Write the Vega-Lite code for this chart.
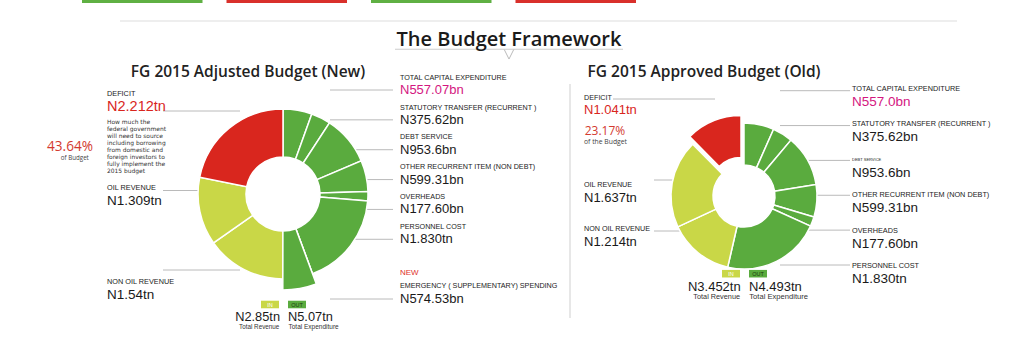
{
"$schema":"https://vega.github.io/schema/vega-lite/v6.json",
"width":1024,"height":342,
"autosize":{"type":"fit","contains":"padding"},
"padding":0,
"background":"#ffffff",
"config":{"view":{"stroke":null},"axis":{"disable":true},"legend":{"disable":true},"text":{"font":"Liberation Sans"}},
"resolve":{"scale":{"x":"independent","y":"independent","theta":"independent","color":"independent","opacity":"independent","size":"independent"}},
"datasets":{
"tabs":[{"tab":1,"tone":"green"},{"tab":2,"tone":"red"},{"tab":3,"tone":"green"},{"tab":4,"tone":"red"}],
"budgets":[
{"budget":"New","title":"FG 2015 Adjusted Budget (New)","share":"43.64%","shareCaption":"of Budget","revenue":"N2.85tn","expenditure":"N5.07tn"},
{"budget":"Old","title":"FG 2015 Approved Budget (Old)","share":"23.17%","shareCaption":"of the Budget","revenue":"N3.452tn","expenditure":"N4.493tn"}],
"items":[
{"budget":"New","seq":1,"group":"Expenditure","item":"Capital expenditure","name":"TOTAL CAPITAL EXPENDITURE","value":557.07,"label":"N557.07bn"},
{"budget":"New","seq":2,"group":"Expenditure","item":"Statutory transfer","name":"STATUTORY TRANSFER (RECURRENT )","value":375.62,"label":"N375.62bn"},
{"budget":"New","seq":3,"group":"Expenditure","item":"Debt service","name":"DEBT SERVICE","value":953.6,"label":"N953.6bn"},
{"budget":"New","seq":4,"group":"Expenditure","item":"Other recurrent","name":"OTHER RECURRENT ITEM (NON DEBT)","value":599.31,"label":"N599.31bn"},
{"budget":"New","seq":5,"group":"Expenditure","item":"Overheads","name":"OVERHEADS","value":177.6,"label":"N177.60bn"},
{"budget":"New","seq":6,"group":"Expenditure","item":"Personnel cost","name":"PERSONNEL COST","value":1830,"label":"N1.830tn"},
{"budget":"New","seq":7,"group":"Supplementary","item":"Emergency spending","name":"EMERGENCY ( SUPPLEMENTARY) SPENDING","value":574.53,"label":"N574.53bn","tag":"NEW"},
{"budget":"New","seq":8,"group":"Revenue","item":"Non oil revenue","name":"NON OIL REVENUE","value":1540,"label":"N1.54tn"},
{"budget":"New","seq":9,"group":"Revenue","item":"Oil revenue","name":"OIL REVENUE","value":1309,"label":"N1.309tn"},
{"budget":"New","seq":10,"group":"Deficit","item":"Deficit","name":"DEFICIT","value":2212,"label":"N2.212tn","note":"How much the\nfederal government\nwill need to source\nincluding borrowing\nfrom domestic and\nforeign investors to\nfully implement the\n2015 budget"},
{"budget":"Old","seq":1,"group":"Expenditure","item":"Capital expenditure","name":"TOTAL CAPITAL EXPENDITURE","value":557.0,"label":"N557.0bn"},
{"budget":"Old","seq":2,"group":"Expenditure","item":"Statutory transfer","name":"STATUTORY TRANSFER (RECURRENT )","value":375.62,"label":"N375.62bn"},
{"budget":"Old","seq":3,"group":"Expenditure","item":"Debt service","name":"DEBT SERVICE","value":953.6,"label":"N953.6bn"},
{"budget":"Old","seq":4,"group":"Expenditure","item":"Other recurrent","name":"OTHER RECURRENT ITEM (NON DEBT)","value":599.31,"label":"N599.31bn"},
{"budget":"Old","seq":5,"group":"Expenditure","item":"Overheads","name":"OVERHEADS","value":177.6,"label":"N177.60bn"},
{"budget":"Old","seq":6,"group":"Expenditure","item":"Personnel cost","name":"PERSONNEL COST","value":1830,"label":"N1.830tn"},
{"budget":"Old","seq":7,"group":"Revenue","item":"Non oil revenue","name":"NON OIL REVENUE","value":1214,"label":"N1.214tn"},
{"budget":"Old","seq":8,"group":"Revenue","item":"Oil revenue","name":"OIL REVENUE","value":1637,"label":"N1.637tn"},
{"budget":"Old","seq":9,"group":"Deficit","item":"Deficit","name":"DEFICIT","value":1041,"label":"N1.041tn"}]
},
"layer":[
{"data":{"name":"tabs"},"mark":{"type":"rect"},"encoding":{
 "x":{"field":"tab","type":"ordinal","scale":{"type":"band","domain":[1,2,3,4],"range":[82,636],"paddingInner":0.166,"paddingOuter":0}},
 "y":{"datum":"tabs","type":"nominal","scale":{"type":"band","domain":["tabs"],"range":[0,3],"padding":0}},
 "color":{"field":"tone","type":"nominal","scale":{"domain":["green","red"],"range":["#5fb043","#d9302b"]}}}},
{"data":{"values":[{}]},"mark":{"type":"rect","color":"#dedede"},"encoding":{
 "x":{"datum":"separator","type":"nominal","scale":{"type":"band","domain":["separator"],"range":[120,957],"padding":0}},
 "y":{"datum":"separator","type":"nominal","scale":{"type":"band","domain":["separator"],"range":[20.5,21.5],"padding":0}}}},
{"data":{"values":[{}]},"mark":{"type":"rect","color":"#cccccc"},"encoding":{
 "x":{"datum":"underline","type":"nominal","scale":{"type":"band","domain":["underline"],"range":[395,623],"padding":0}},
 "y":{"datum":"underline","type":"nominal","scale":{"type":"band","domain":["underline"],"range":[48.8,49.8],"padding":0}}}},
{"data":{"values":[{}]},"mark":{"type":"point","shape":"M-1,-1L0,1L1,-1","filled":false,"stroke":"#bbbbbb","strokeWidth":1,"size":90,"opacity":1},"encoding":{
 "x":{"datum":"notch","type":"nominal","scale":{"type":"point","domain":["notch"],"range":[509,509],"padding":0}},
 "y":{"datum":"notch","type":"nominal","scale":{"type":"point","domain":["notch"],"range":[54.3,54.3],"padding":0}}}},
{"data":{"values":[{}]},"mark":{"type":"rect","color":"#d0d0d0"},"encoding":{
 "x":{"datum":"divider","type":"nominal","scale":{"type":"band","domain":["divider"],"range":[569.5,570.5],"padding":0}},
 "y":{"datum":"divider","type":"nominal","scale":{"type":"band","domain":["divider"],"range":[84,318],"padding":0}}}},

{"data":{"name":"items"},"transform":[{"filter":"datum.budget === 'New' && (datum.group === 'Expenditure' || datum.group === 'Supplementary')"}],
 "mark":{"type":"rule","color":"#a8a8a8","strokeWidth":0.8,"x2Offset":-63},
 "encoding":{"x":{"field":"budget","type":"nominal","scale":{"type":"point","domain":["New","Old"],"range":[393,850],"padding":0}},"x2":{"field":"budget"},
 "y":{"field":"item","type":"nominal","scale":{"type":"point","domain":["Capital expenditure","Statutory transfer","Debt service","Other recurrent","Overheads","Personnel cost","(new)","Emergency spending"],"range":[90,299],"padding":0}}}},
{"data":{"name":"items"},"transform":[{"filter":"datum.budget === 'Old' && datum.group === 'Expenditure'"}],
 "mark":{"type":"rule","color":"#a8a8a8","strokeWidth":0.8,"x2Offset":-70},
 "encoding":{"x":{"field":"budget","type":"nominal","scale":{"type":"point","domain":["New","Old"],"range":[393,850],"padding":0}},"x2":{"field":"budget"},
 "y":{"field":"item","type":"nominal","scale":{"type":"point","domain":["Capital expenditure","Statutory transfer","Debt service","Other recurrent","Overheads","Personnel cost"],"range":[90.7,265],"padding":0}}}},
{"data":{"name":"items"},"transform":[{"filter":"datum.budget === 'New' && (datum.group === 'Revenue' || datum.group === 'Deficit')"}],
 "mark":{"type":"rule","color":"#a8a8a8","strokeWidth":0.8,"x2Offset":77},
 "encoding":{"x":{"field":"budget","type":"nominal","scale":{"type":"point","domain":["New","Old"],"range":[163,613],"padding":0}},"x2":{"field":"budget"},
 "y":{"field":"item","type":"nominal","scale":{"type":"point","domain":["Deficit","Oil revenue","Non oil revenue"],"range":[111,270],"padding":0}}}},
{"data":{"name":"items"},"transform":[{"filter":"datum.budget === 'Old' && datum.group === 'Deficit'"}],
 "mark":{"type":"rule","color":"#a8a8a8","strokeWidth":0.8,"x2Offset":102},
 "encoding":{"x":{"field":"budget","type":"nominal","scale":{"type":"point","domain":["New","Old"],"range":[163,613],"padding":0}},"x2":{"field":"budget"},
 "y":{"field":"item","type":"nominal","scale":{"type":"point","domain":["Deficit"],"range":[99,99],"padding":0}}}},
{"data":{"name":"items"},"transform":[{"filter":"datum.budget === 'Old' && datum.group === 'Revenue'"}],
 "mark":{"type":"rule","color":"#a8a8a8","strokeWidth":0.8,"x2Offset":46},
 "encoding":{"x":{"field":"budget","type":"nominal","scale":{"type":"point","domain":["New","Old"],"range":[163,654],"padding":0}},"x2":{"field":"budget"},
 "y":{"field":"item","type":"nominal","scale":{"type":"point","domain":["Oil revenue","Non oil revenue"],"range":[180,231],"padding":0}}}},

{"data":{"name":"items"},"transform":[{"filter":"datum.budget === 'New'"}],
 "mark":{"type":"arc","innerRadius":37,"outerRadius":85,"stroke":"#ffffff","strokeWidth":1.5},
 "encoding":{
 "x":{"field":"budget","type":"nominal","scale":{"type":"point","domain":["New","Old"],"range":[283,744],"padding":0}},
 "y":{"field":"budget","type":"nominal","scale":{"type":"point","domain":["New","Old"],"range":[194,196],"padding":0}},
 "theta":{"field":"value","type":"quantitative","stack":true},
 "order":{"field":"seq","type":"quantitative"},
 "color":{"field":"group","type":"nominal","scale":{"domain":["Expenditure","Supplementary","Revenue","Deficit"],"range":["#5aab3e","#5aab3e","#c9d747","#d9261e"]}}}},
{"data":{"name":"items"},"transform":[{"filter":"datum.budget === 'New'"}],
 "mark":{"type":"arc","innerRadius":37,"outerRadius":96,"stroke":"#ffffff","strokeWidth":1.5},
 "encoding":{
 "x":{"field":"budget","type":"nominal","scale":{"type":"point","domain":["New","Old"],"range":[283,744],"padding":0}},
 "y":{"field":"budget","type":"nominal","scale":{"type":"point","domain":["New","Old"],"range":[194,196],"padding":0}},
 "theta":{"field":"value","type":"quantitative","stack":true},
 "order":{"field":"seq","type":"quantitative"},
 "color":{"field":"group","type":"nominal","scale":{"domain":["Expenditure","Supplementary","Revenue","Deficit"],"range":["#5aab3e","#5aab3e","#c9d747","#d9261e"]}},
 "opacity":{"condition":{"test":"datum.group === 'Supplementary'","value":1},"value":0}}},
{"data":{"name":"items"},"transform":[{"filter":"datum.budget === 'Old'"}],
 "mark":{"type":"arc","innerRadius":31,"outerRadius":73,"stroke":"#ffffff","strokeWidth":1.5},
 "encoding":{
 "x":{"field":"budget","type":"nominal","scale":{"type":"point","domain":["New","Old"],"range":[283,744],"padding":0}},
 "y":{"field":"budget","type":"nominal","scale":{"type":"point","domain":["New","Old"],"range":[194,196],"padding":0}},
 "theta":{"field":"value","type":"quantitative","stack":true},
 "order":{"field":"seq","type":"quantitative"},
 "color":{"field":"group","type":"nominal","scale":{"domain":["Expenditure","Supplementary","Revenue","Deficit"],"range":["#5aab3e","#5aab3e","#c9d747","#d9261e"]}},
 "opacity":{"condition":{"test":"datum.group === 'Deficit'","value":0},"value":1}}},
{"data":{"name":"items"},"transform":[{"filter":"datum.budget === 'Old'"}],
 "mark":{"type":"arc","innerRadius":31,"outerRadius":73,"stroke":"#ffffff","strokeWidth":1.5,"xOffset":-3,"yOffset":-7.5},
 "encoding":{
 "x":{"field":"budget","type":"nominal","scale":{"type":"point","domain":["New","Old"],"range":[283,744],"padding":0}},
 "y":{"field":"budget","type":"nominal","scale":{"type":"point","domain":["New","Old"],"range":[194,196],"padding":0}},
 "theta":{"field":"value","type":"quantitative","stack":true},
 "order":{"field":"seq","type":"quantitative"},
 "color":{"field":"group","type":"nominal","scale":{"domain":["Expenditure","Supplementary","Revenue","Deficit"],"range":["#5aab3e","#5aab3e","#c9d747","#d9261e"]}},
 "opacity":{"condition":{"test":"datum.group === 'Deficit'","value":1},"value":0}}},

{"data":{"name":"items"},"transform":[{"filter":"datum.budget === 'New' && (datum.group === 'Expenditure' || datum.group === 'Supplementary')"}],
 "mark":{"type":"text","align":"left","baseline":"middle","fontSize":7.2,"color":"#222222"},
 "encoding":{"text":{"field":"name"},
 "x":{"field":"budget","type":"nominal","scale":{"type":"point","domain":["New","Old"],"range":[400,852],"padding":0}},
 "y":{"field":"item","type":"nominal","scale":{"type":"point","domain":["Capital expenditure","Statutory transfer","Debt service","Other recurrent","Overheads","Personnel cost","(new)","Emergency spending"],"range":[78,286],"padding":0}}}},
{"data":{"name":"items"},"transform":[{"filter":"datum.budget === 'New' && (datum.group === 'Expenditure' || datum.group === 'Supplementary')"}],
 "mark":{"type":"text","align":"left","baseline":"middle","fontSize":13},
 "encoding":{"text":{"field":"label"},
 "x":{"field":"budget","type":"nominal","scale":{"type":"point","domain":["New","Old"],"range":[400,852],"padding":0}},
 "y":{"field":"item","type":"nominal","scale":{"type":"point","domain":["Capital expenditure","Statutory transfer","Debt service","Other recurrent","Overheads","Personnel cost","(new)","Emergency spending"],"range":[90,299],"padding":0}},
 "color":{"condition":{"test":"datum.item === 'Capital expenditure'","value":"#d4177f"},"value":"#1a1a1a"}}},
{"data":{"name":"items"},"transform":[{"filter":"isValid(datum.tag)"}],
 "mark":{"type":"text","align":"left","baseline":"middle","fontSize":8,"color":"#e0312a"},
 "encoding":{"text":{"field":"tag"},
 "x":{"field":"budget","type":"nominal","scale":{"type":"point","domain":["New","Old"],"range":[400,852],"padding":0}},
 "y":{"field":"item","type":"nominal","scale":{"type":"point","domain":["Capital expenditure","Statutory transfer","Debt service","Other recurrent","Overheads","Personnel cost","(new)","Emergency spending"],"range":[65,273],"padding":0}}}},
{"data":{"name":"items"},"transform":[{"filter":"datum.budget === 'Old' && datum.group === 'Expenditure'"}],
 "mark":{"type":"text","align":"left","baseline":"middle","color":"#222222"},
 "encoding":{"text":{"field":"name"},
 "x":{"field":"budget","type":"nominal","scale":{"type":"point","domain":["New","Old"],"range":[400,852],"padding":0}},
 "y":{"field":"item","type":"nominal","scale":{"type":"point","domain":["Capital expenditure","Statutory transfer","Debt service","Other recurrent","Overheads","Personnel cost"],"range":[88.7,266],"padding":0}},
 "size":{"condition":{"test":"datum.item === 'Debt service'","value":4},"value":7.3}}},
{"data":{"name":"items"},"transform":[{"filter":"datum.budget === 'Old' && datum.group === 'Expenditure'"}],
 "mark":{"type":"text","align":"left","baseline":"middle","fontSize":13.5},
 "encoding":{"text":{"field":"label"},
 "x":{"field":"budget","type":"nominal","scale":{"type":"point","domain":["New","Old"],"range":[400,852],"padding":0}},
 "y":{"field":"item","type":"nominal","scale":{"type":"point","domain":["Capital expenditure","Statutory transfer","Debt service","Other recurrent","Overheads","Personnel cost"],"range":[102,279.3],"padding":0}},
 "color":{"condition":{"test":"datum.item === 'Capital expenditure'","value":"#d4177f"},"value":"#1a1a1a"}}},

{"data":{"name":"items"},"transform":[{"filter":"datum.budget === 'New' && (datum.group === 'Revenue' || datum.group === 'Deficit')"}],
 "mark":{"type":"text","align":"left","baseline":"middle","fontSize":7.3,"color":"#222222"},
 "encoding":{"text":{"field":"name"},
 "x":{"field":"budget","type":"nominal","scale":{"type":"point","domain":["New","Old"],"range":[107,584],"padding":0}},
 "y":{"field":"item","type":"nominal","scale":{"type":"point","domain":["Deficit","Oil revenue","Non oil revenue"],"range":[94,282],"padding":0}}}},
{"data":{"name":"items"},"transform":[{"filter":"datum.budget === 'New' && (datum.group === 'Revenue' || datum.group === 'Deficit')"}],
 "mark":{"type":"text","align":"left","baseline":"middle"},
 "encoding":{"text":{"field":"label"},
 "x":{"field":"budget","type":"nominal","scale":{"type":"point","domain":["New","Old"],"range":[107,584],"padding":0}},
 "y":{"field":"item","type":"nominal","scale":{"type":"point","domain":["Deficit","Oil revenue","Non oil revenue"],"range":[107,295],"padding":0}},
 "size":{"condition":{"test":"datum.group === 'Deficit'","value":14.5},"value":13.5},
 "color":{"condition":{"test":"datum.group === 'Deficit'","value":"#d9261e"},"value":"#1a1a1a"}}},
{"data":{"name":"items"},"transform":[{"filter":"datum.budget === 'Old' && (datum.group === 'Revenue' || datum.group === 'Deficit')"}],
 "mark":{"type":"text","align":"left","baseline":"middle","fontSize":7.2,"color":"#222222"},
 "encoding":{"text":{"field":"name"},
 "x":{"field":"budget","type":"nominal","scale":{"type":"point","domain":["New","Old"],"range":[107,584],"padding":0}},
 "y":{"field":"item","type":"nominal","scale":{"type":"point","domain":["Deficit","(share)","Oil revenue","Non oil revenue"],"range":[97.7,229.3],"padding":0}}}},
{"data":{"name":"items"},"transform":[{"filter":"datum.budget === 'Old' && (datum.group === 'Revenue' || datum.group === 'Deficit')"}],
 "mark":{"type":"text","align":"left","baseline":"middle","fontSize":13},
 "encoding":{"text":{"field":"label"},
 "x":{"field":"budget","type":"nominal","scale":{"type":"point","domain":["New","Old"],"range":[107,584],"padding":0}},
 "y":{"field":"item","type":"nominal","scale":{"type":"point","domain":["Deficit","(share)","Oil revenue","Non oil revenue"],"range":[110,242.3],"padding":0}},
 "color":{"condition":{"test":"datum.group === 'Deficit'","value":"#d9261e"},"value":"#1a1a1a"}}},
{"data":{"name":"items"},"transform":[{"filter":"isValid(datum.note)"}],
 "mark":{"type":"text","align":"left","baseline":"top","font":"DejaVu Sans","fontSize":5.95,"lineHeight":6.95,"lineBreak":"\n","color":"#333333"},
 "encoding":{"text":{"field":"note"},
 "x":{"field":"budget","type":"nominal","scale":{"type":"point","domain":["New","Old"],"range":[107,584],"padding":0}},
 "y":{"field":"item","type":"nominal","scale":{"type":"point","domain":["Deficit"],"range":[119.3,119.3],"padding":0}}}},

{"data":{"name":"budgets"},
 "mark":{"type":"text","align":"center","baseline":"middle","font":"Open Sans","fontSize":15.5,"fontWeight":600,"color":"#222222"},
 "encoding":{"text":{"field":"title"},
 "x":{"field":"budget","type":"nominal","scale":{"type":"point","domain":["New","Old"],"range":[248,704],"padding":0}},
 "y":{"field":"budget","type":"nominal","scale":{"type":"point","domain":["New","Old"],"range":[72,72],"padding":0}}}},
{"data":{"values":[{"heading":"The Budget Framework"}]},
 "mark":{"type":"text","align":"center","baseline":"middle","font":"Open Sans","fontSize":20,"fontWeight":600,"color":"#1a1a1a"},
 "encoding":{"text":{"field":"heading"},
 "x":{"field":"heading","type":"nominal","scale":{"type":"point","domain":["The Budget Framework"],"range":[509,509],"padding":0}},
 "y":{"field":"heading","type":"nominal","scale":{"type":"point","domain":["The Budget Framework"],"range":[40,40],"padding":0}}}},
{"data":{"name":"budgets"},
 "mark":{"type":"text","align":"center","baseline":"middle","font":"Open Sans","color":"#d33a2f"},
 "encoding":{"text":{"field":"share"},
 "x":{"field":"budget","type":"nominal","scale":{"type":"point","domain":["New","Old"],"range":[70,605],"padding":0}},
 "y":{"field":"budget","type":"nominal","scale":{"type":"point","domain":["New","Old"],"range":[146.5,130.7],"padding":0}},
 "size":{"condition":{"test":"datum.budget === 'New'","value":13.6},"value":12}}},
{"data":{"name":"budgets"},
 "mark":{"type":"text","align":"center","baseline":"middle","font":"Open Sans","color":"#444444"},
 "encoding":{"text":{"field":"shareCaption"},
 "x":{"field":"budget","type":"nominal","scale":{"type":"point","domain":["New","Old"],"range":[74.8,605.5],"padding":0}},
 "y":{"field":"budget","type":"nominal","scale":{"type":"point","domain":["New","Old"],"range":[157.5,141.7],"padding":0}},
 "size":{"condition":{"test":"datum.budget === 'New'","value":6.2},"value":6.8}}},

{"data":{"name":"budgets"},
 "mark":{"type":"point","shape":"M-1,-0.42H1V0.42H-1Z","filled":true,"size":324,"opacity":1,"strokeWidth":0,"color":"#c9d747"},
 "encoding":{
 "x":{"field":"budget","type":"nominal","scale":{"type":"point","domain":["New","Old"],"range":[270,731],"padding":0}},
 "y":{"field":"budget","type":"nominal","scale":{"type":"point","domain":["New","Old"],"range":[304.5,273.7],"padding":0}}}},
{"data":{"name":"budgets"},
 "mark":{"type":"point","shape":"M-1,-0.42H1V0.42H-1Z","filled":true,"size":324,"opacity":1,"strokeWidth":0,"color":"#5aab3e"},
 "encoding":{
 "x":{"field":"budget","type":"nominal","scale":{"type":"point","domain":["New","Old"],"range":[297,758],"padding":0}},
 "y":{"field":"budget","type":"nominal","scale":{"type":"point","domain":["New","Old"],"range":[304.5,273.7],"padding":0}}}},
{"data":{"name":"budgets"},
 "mark":{"type":"text","align":"center","baseline":"middle","fontSize":5.5,"color":"#ffffff","text":"IN"},
 "encoding":{
 "x":{"field":"budget","type":"nominal","scale":{"type":"point","domain":["New","Old"],"range":[270,731],"padding":0}},
 "y":{"field":"budget","type":"nominal","scale":{"type":"point","domain":["New","Old"],"range":[304.5,273.7],"padding":0}}}},
{"data":{"name":"budgets"},
 "mark":{"type":"text","align":"center","baseline":"middle","fontSize":5.5,"color":"#1d3b10","text":"OUT"},
 "encoding":{
 "x":{"field":"budget","type":"nominal","scale":{"type":"point","domain":["New","Old"],"range":[297,758],"padding":0}},
 "y":{"field":"budget","type":"nominal","scale":{"type":"point","domain":["New","Old"],"range":[304.5,273.7],"padding":0}}}},
{"data":{"name":"budgets"},
 "mark":{"type":"text","align":"right","baseline":"middle","color":"#1a1a1a"},
 "encoding":{"text":{"field":"revenue"},
 "x":{"field":"budget","type":"nominal","scale":{"type":"point","domain":["New","Old"],"range":[280,740.7],"padding":0}},
 "y":{"field":"budget","type":"nominal","scale":{"type":"point","domain":["New","Old"],"range":[317,286.7],"padding":0}},
 "size":{"condition":{"test":"datum.budget === 'New'","value":12.8},"value":13}}},
{"data":{"name":"budgets"},
 "mark":{"type":"text","align":"left","baseline":"middle","color":"#1a1a1a"},
 "encoding":{"text":{"field":"expenditure"},
 "x":{"field":"budget","type":"nominal","scale":{"type":"point","domain":["New","Old"],"range":[288,749],"padding":0}},
 "y":{"field":"budget","type":"nominal","scale":{"type":"point","domain":["New","Old"],"range":[317,286.7],"padding":0}},
 "size":{"condition":{"test":"datum.budget === 'New'","value":12.8},"value":13}}},
{"data":{"name":"budgets"},
 "mark":{"type":"text","align":"right","baseline":"middle","color":"#333333","text":"Total Revenue"},
 "encoding":{
 "x":{"field":"budget","type":"nominal","scale":{"type":"point","domain":["New","Old"],"range":[279.3,740],"padding":0}},
 "y":{"field":"budget","type":"nominal","scale":{"type":"point","domain":["New","Old"],"range":[326.8,297.3],"padding":0}},
 "size":{"condition":{"test":"datum.budget === 'New'","value":6.3},"value":7.3}}},
{"data":{"name":"budgets"},
 "mark":{"type":"text","align":"left","baseline":"middle","color":"#333333","text":"Total Expenditure"},
 "encoding":{
 "x":{"field":"budget","type":"nominal","scale":{"type":"point","domain":["New","Old"],"range":[288.5,749.3],"padding":0}},
 "y":{"field":"budget","type":"nominal","scale":{"type":"point","domain":["New","Old"],"range":[326.8,297.3],"padding":0}},
 "size":{"condition":{"test":"datum.budget === 'New'","value":6.5},"value":7.6}}}
]
}
